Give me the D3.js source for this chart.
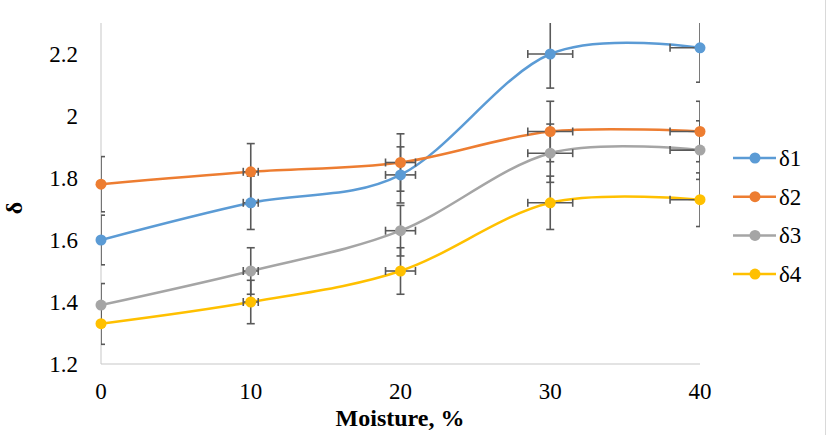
<!DOCTYPE html>
<html><head><meta charset="utf-8">
<script src="https://d3js.org/d3.v7.min.js"></script>
<style>body{margin:0;background:#fff}svg{display:block}</style>
</head><body><svg id="c" width="827" height="435"></svg>
<script>
const moisture = [0, 10, 20, 30, 40];
const d1 = [1.60, 1.72, 1.81, 2.20, 2.22];
const d2 = [1.78, 1.82, 1.85, 1.95, 1.95];
const d3v = [1.39, 1.50, 1.63, 1.88, 1.89];
const d4 = [1.33, 1.40, 1.50, 1.72, 1.73];
const seriesNames = ["δ1", "δ2", "δ3", "δ4"];
const seriesColors = ["#5B9BD5", "#ED7D31", "#A5A5A5", "#FFC000"];
const xTicks = [0, 10, 20, 30, 40];
const yTicks = [1.2, 1.4, 1.6, 1.8, 2.0, 2.2];
const errPct = 0.05;

const svg = d3.select("#c");
const L = 101, R = 700, T = 23, B = 364;
const x = d3.scaleLinear().domain([0, 40]).range([L, R]);
const y = d3.scaleLinear().domain([1.2, 2.3]).range([B, T]);
const font = "'Liberation Serif', 'Times New Roman', serif";

svg.append("line").attr("x1", 825.5).attr("x2", 825.5).attr("y1", 0).attr("y2", 435).attr("stroke", "#d9d9d9");

svg.append("line").attr("x1", L).attr("x2", L).attr("y1", T).attr("y2", B).attr("stroke", "#d0d0d0").attr("stroke-width", 1.2);
svg.append("line").attr("x1", L).attr("x2", R).attr("y1", B).attr("y2", B).attr("stroke", "#c8c8c8").attr("stroke-width", 1.2);

svg.append("g").selectAll("text").data(yTicks).join("text")
  .attr("x", 78).attr("y", d => y(d)).attr("dy", "0.35em").attr("text-anchor", "end")
  .attr("font-family", font).attr("font-size", 23).attr("fill", "#000")
  .text(d => d === 2 ? "2" : d3.format(".1f")(d));
svg.append("g").selectAll("text").data(xTicks).join("text")
  .attr("x", d => x(d)).attr("y", 399).attr("text-anchor", "middle")
  .attr("font-family", font).attr("font-size", 23).attr("fill", "#000")
  .text(d => d);

svg.append("text").attr("x", 400).attr("y", 426).attr("text-anchor", "middle")
  .attr("font-family", font).attr("font-size", 24).attr("font-weight", "bold").text("Moisture, %");
svg.append("text").attr("transform", "translate(22,208) rotate(-90)").attr("text-anchor", "middle")
  .attr("font-family", font).attr("font-size", 24).attr("font-weight", "bold").text("δ");

const series = [d1, d2, d3v, d4].map((vals, i) => ({
  name: seriesNames[i], color: seriesColors[i],
  pts: moisture.map((m, j) => ({m, v: vals[j]}))
}));

svg.append("defs").append("clipPath").attr("id", "plot")
  .append("rect").attr("x", L).attr("y", T).attr("width", R - L).attr("height", B - T);

const plot = svg.append("g").attr("clip-path", "url(#plot)");
const line = d3.line().x(d => x(d.m)).y(d => y(d.v)).curve(d3.curveCardinal.tension(0));

series.forEach(s => {
  plot.append("path").datum(s.pts).attr("d", line).attr("fill", "none")
    .attr("stroke", s.color).attr("stroke-width", 2.5);
});

const eg = plot.append("g").attr("stroke", "#595959").attr("stroke-width", 1.6).attr("fill", "none");
const cap = 4;
series.forEach(s => {
  s.pts.forEach(p => {
    const cx = x(p.m), cy = y(p.v);
    const yt = y(p.v * (1 + errPct)), yb = y(p.v * (1 - errPct));
    eg.append("line").attr("x1", cx).attr("x2", cx).attr("y1", yt).attr("y2", yb);
    eg.append("line").attr("x1", cx - cap).attr("x2", cx + cap).attr("y1", yt).attr("y2", yt);
    eg.append("line").attr("x1", cx - cap).attr("x2", cx + cap).attr("y1", yb).attr("y2", yb);
    if (p.m > 0) {
      const xl = x(p.m * (1 - errPct)), xr = x(p.m * (1 + errPct));
      eg.append("line").attr("x1", xl).attr("x2", xr).attr("y1", cy).attr("y2", cy);
      eg.append("line").attr("x1", xl).attr("x2", xl).attr("y1", cy - cap).attr("y2", cy + cap);
      eg.append("line").attr("x1", xr).attr("x2", xr).attr("y1", cy - cap).attr("y2", cy + cap);
    }
  });
});

series.forEach(s => {
  svg.append("g").selectAll("circle").data(s.pts).join("circle")
    .attr("cx", d => x(d.m)).attr("cy", d => y(d.v)).attr("r", 5.5).attr("fill", s.color);
});

const lg = svg.append("g");
series.forEach((s, i) => {
  const ly = 158 + i * 38.7;
  lg.append("line").attr("x1", 733).attr("x2", 776).attr("y1", ly).attr("y2", ly).attr("stroke", s.color).attr("stroke-width", 2.5);
  lg.append("circle").attr("cx", 755).attr("cy", ly).attr("r", 5.5).attr("fill", s.color);
  lg.append("text").attr("x", 779).attr("y", ly).attr("dy", "0.35em").attr("font-family", font).attr("font-size", 23).text(s.name);
});
</script></body></html>
